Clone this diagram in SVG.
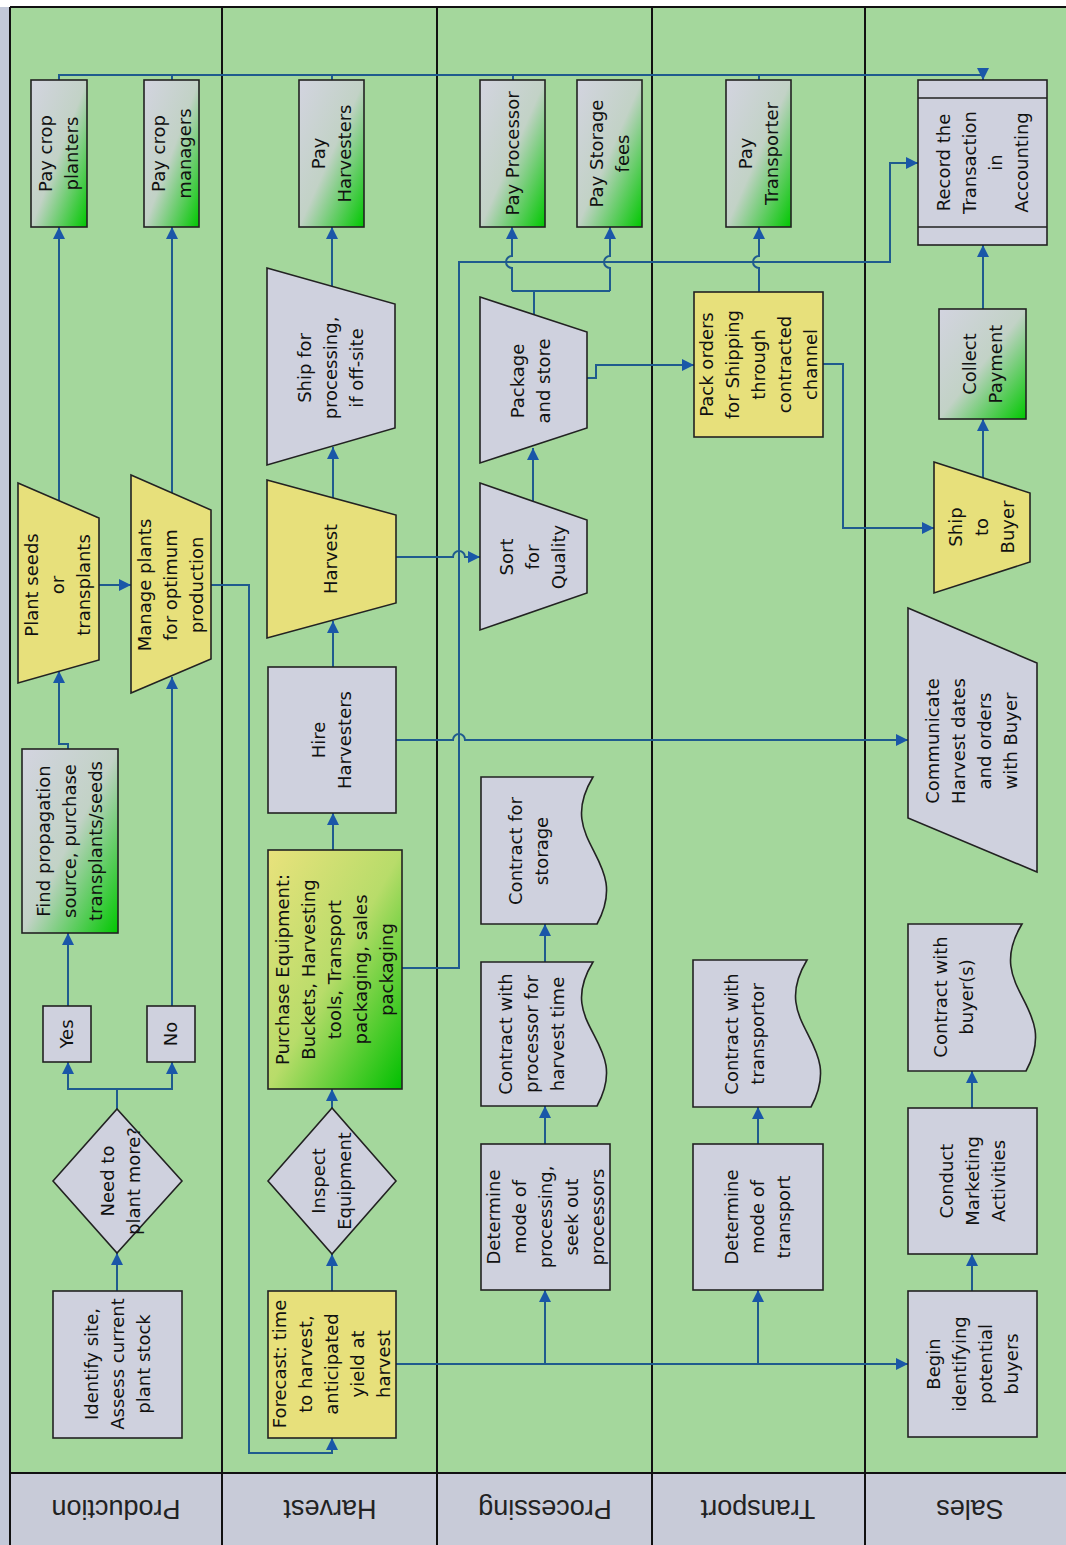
<svg xmlns="http://www.w3.org/2000/svg" width="1066" height="1545" viewBox="0 0 1066 1545">
<style>
.lane{fill:#a4d79c}
.hdr{fill:#c8cbd8}
.ln{stroke:#111;stroke-width:2;fill:none}
.n{stroke:#222;stroke-width:1.6}
.gray{fill:#cfd1de}
.yel{fill:#e7e07b}
.gg{fill:url(#gGreen)}
.yg{fill:url(#yGreen)}
.c{fill:none;stroke:#1f5b8e;stroke-width:2}
.a{marker-end:url(#arr)}
.t{font-family:"DejaVu Sans",Verdana,sans-serif;font-size:18px;text-anchor:middle;fill:#111}
.lbl{font-family:"Liberation Sans",Arial,sans-serif;font-size:27px;text-anchor:middle;fill:#222}
</style>
<defs>
<linearGradient id="gGreen" x1="0" y1="0" x2="1" y2="1">
<stop offset="0" stop-color="#d3d4e0"/><stop offset="0.5" stop-color="#c2d2c6"/><stop offset="1" stop-color="#00c800"/>
</linearGradient>
<linearGradient id="yGreen" x1="0" y1="0" x2="1" y2="1">
<stop offset="0" stop-color="#e9e27c"/><stop offset="0.5" stop-color="#b8dc6a"/><stop offset="1" stop-color="#00c000"/>
</linearGradient>
<marker id="arr" viewBox="0 0 12 12" refX="12" refY="6" markerWidth="12" markerHeight="12" markerUnits="userSpaceOnUse" orient="auto">
<path d="M0,0 L12,6 L0,12 Z" fill="#1a57a8"/>
</marker>
</defs>

<g id="lanes">
<rect x="0" y="0" width="1066" height="1545" fill="#ffffff"/>
<rect x="0" y="7" width="10" height="1538" fill="#c3c9d9"/>
<rect class="lane" x="10" y="7" width="1056" height="1466"/>
<rect class="hdr" x="10" y="1473" width="1056" height="72"/>
<path class="ln" d="M10,7 H1066 M10,1473 H1066 M10,7 V1545 M222,7 V1545 M437,7 V1545 M652,7 V1545 M865,7 V1545"/>
<text class="lbl" transform="translate(116,1509) rotate(180)" dy="0.35em">Production</text>
<text class="lbl" transform="translate(330,1509) rotate(180)" dy="0.35em">Harvest</text>
<text class="lbl" transform="translate(545,1509) rotate(180)" dy="0.35em">Processing</text>
<text class="lbl" transform="translate(758,1509) rotate(180)" dy="0.35em">Transport</text>
<text class="lbl" transform="translate(970,1509) rotate(180)" dy="0.35em">Sales</text>
</g>

<g id="connectors">
<path class="c a" d="M117,1291 V1253"/>
<path class="c a" d="M117,1109 V1089 H68 V1062"/>
<path class="c a" d="M117,1089 H172 V1062"/>
<path class="c a" d="M68,1006 V933"/>
<path class="c a" d="M172,1006 V677"/>
<path class="c a" d="M68,749 V744 H59 V671"/>
<path class="c a" d="M59,501 V227"/>
<path class="c a" d="M172,493 V227"/>
<path class="c a" d="M99,585 H131"/>
<path class="c a" d="M211,585 H249 V1453 H332 V1438"/>
<path class="c a" d="M59,80 V75 H983 V80"/>
<path class="c" d="M172,80 V75 M332,80 V75 M513,80 V75 M759,80 V75"/>
<path class="c a" d="M332,1291 V1254"/>
<path class="c a" d="M332,1108 V1089"/>
<path class="c a" d="M333,850 V813"/>
<path class="c a" d="M333,667 V621"/>
<path class="c a" d="M333,498 V447"/>
<path class="c a" d="M332,286 V227"/>
<path class="c a" d="M396,557 H453 A6,6 0 0 1 465,557 H480"/>
<path class="c a" d="M396,740 H453 A6,6 0 0 1 465,740 H908"/>
<path class="c a" d="M402,968 H459 V262 H890 V163 H918"/>
<path class="c a" d="M396,1364 H908"/>
<path class="c a" d="M545,1364 V1290"/>
<path class="c a" d="M758,1364 V1290"/>
<path class="c a" d="M545,1144 V1106"/>
<path class="c a" d="M545,962 V924"/>
<path class="c a" d="M758,1144 V1107"/>
<path class="c a" d="M533,501 V448"/>
<path class="c" d="M534,315 V291 M512,291 H610"/>
<path class="c a" d="M512,291 V268 A6,6 0 0 1 512,256 V227"/>
<path class="c a" d="M610,291 V268 A6,6 0 0 1 610,256 V227"/>
<path class="c a" d="M587,378 H596 V365 H694"/>
<path class="c a" d="M759,292 V268 A6,6 0 0 1 759,256 V227"/>
<path class="c a" d="M823,364 H843 V528 H934"/>
<path class="c a" d="M983,478 V419"/>
<path class="c a" d="M983,309 V245"/>
<path class="c a" d="M972,1291 V1254"/>
<path class="c a" d="M972,1108 V1071"/>
</g>

<g id="identify-site">
<rect class="n gray" x="53" y="1291" width="129" height="147"/>
<text class="t" transform="translate(117.5,1364) rotate(-90)"><tspan x="0" dy="-20">Identify site,</tspan><tspan x="0" dy="26">Assess current</tspan><tspan x="0" dy="26">plant stock</tspan></text>
</g>
<g id="need-to-plant">
<path class="n gray" d="M53,1181 L117,1109 L182,1181 L117,1253 Z"/>
<text class="t" transform="translate(121,1181) rotate(-90)"><tspan x="0" dy="-7">Need to</tspan><tspan x="0" dy="26">plant more?</tspan></text>
</g>
<g id="yes">
<rect class="n gray" x="43" y="1006" width="48" height="56"/>
<text class="t" transform="translate(67,1034) rotate(-90)"><tspan x="0" dy="6">Yes</tspan></text>
</g>
<g id="no">
<rect class="n gray" x="147" y="1006" width="48" height="56"/>
<text class="t" transform="translate(171,1034) rotate(-90)"><tspan x="0" dy="6">No</tspan></text>
</g>
<g id="find-propagation">
<rect class="n gg" x="22" y="749" width="96" height="184"/>
<text class="t" transform="translate(70,841) rotate(-90)"><tspan x="0" dy="-20">Find propagation</tspan><tspan x="0" dy="26">source, purchase</tspan><tspan x="0" dy="26">transplants/seeds</tspan></text>
</g>
<g id="plant-seeds">
<path class="n yel" d="M18,483 L99,518 L99,660 L18,683 Z"/>
<text class="t" transform="translate(58,585) rotate(-90)"><tspan x="0" dy="-20">Plant seeds</tspan><tspan x="0" dy="26">or</tspan><tspan x="0" dy="26">transplants</tspan></text>
</g>
<g id="manage-plants">
<path class="n yel" d="M131,475 L211,510 L211,659 L131,693 Z"/>
<text class="t" transform="translate(171,585) rotate(-90)"><tspan x="0" dy="-20">Manage plants</tspan><tspan x="0" dy="26">for optimum</tspan><tspan x="0" dy="26">production</tspan></text>
</g>
<g id="pay-crop-planters">
<rect class="n gg" x="31" y="80" width="56" height="147"/>
<text class="t" transform="translate(59,153.5) rotate(-90)"><tspan x="0" dy="-7">Pay crop</tspan><tspan x="0" dy="26">planters</tspan></text>
</g>
<g id="pay-crop-managers">
<rect class="n gg" x="144" y="80" width="55" height="147"/>
<text class="t" transform="translate(171.5,153.5) rotate(-90)"><tspan x="0" dy="-7">Pay crop</tspan><tspan x="0" dy="26">managers</tspan></text>
</g>

<g id="forecast">
<rect class="n yel" x="268" y="1291" width="128" height="147"/>
<text class="t" transform="translate(332,1364) rotate(-90)"><tspan x="0" dy="-46">Forecast: time</tspan><tspan x="0" dy="26">to harvest,</tspan><tspan x="0" dy="26">anticipated</tspan><tspan x="0" dy="26">yield at</tspan><tspan x="0" dy="26">harvest</tspan></text>
</g>
<g id="inspect-equipment">
<path class="n gray" d="M268,1181 L332,1108 L396,1181 L332,1254 Z"/>
<text class="t" transform="translate(332,1181) rotate(-90)"><tspan x="0" dy="-7">Inspect</tspan><tspan x="0" dy="26">Equipment</tspan></text>
</g>
<g id="purchase-equipment">
<rect class="n yg" x="268" y="850" width="134" height="239"/>
<text class="t" transform="translate(335,969.5) rotate(-90)"><tspan x="0" dy="-46">Purchase Equipment:</tspan><tspan x="0" dy="26">Buckets, Harvesting</tspan><tspan x="0" dy="26">tools, Transport</tspan><tspan x="0" dy="26">packaging, sales</tspan><tspan x="0" dy="26">packaging</tspan></text>
</g>
<g id="hire-harvesters">
<rect class="n gray" x="268" y="667" width="128" height="146"/>
<text class="t" transform="translate(332,740) rotate(-90)"><tspan x="0" dy="-7">Hire</tspan><tspan x="0" dy="26">Harvesters</tspan></text>
</g>
<g id="harvest">
<path class="n yel" d="M267,480 L396,515 L396,603 L267,638 Z"/>
<text class="t" transform="translate(331,559) rotate(-90)"><tspan x="0" dy="6">Harvest</tspan></text>
</g>
<g id="ship-for-processing">
<path class="n gray" d="M267,268 L395,304 L395,428 L267,465 Z"/>
<text class="t" transform="translate(331,368) rotate(-90)"><tspan x="0" dy="-20">Ship for</tspan><tspan x="0" dy="26">processing,</tspan><tspan x="0" dy="26">if off-site</tspan></text>
</g>
<g id="pay-harvesters">
<rect class="n gg" x="299" y="80" width="65" height="147"/>
<text class="t" transform="translate(331.5,153.5) rotate(-90)"><tspan x="0" dy="-7">Pay</tspan><tspan x="0" dy="26">Harvesters</tspan></text>
</g>

<g id="determine-processing">
<rect class="n gray" x="481" y="1144" width="129" height="146"/>
<text class="t" transform="translate(545.5,1217) rotate(-90)"><tspan x="0" dy="-46">Determine</tspan><tspan x="0" dy="26">mode of</tspan><tspan x="0" dy="26">processing,</tspan><tspan x="0" dy="26">seek out</tspan><tspan x="0" dy="26">processors</tspan></text>
</g>
<g id="contract-processor">
<path class="n gray" d="M481,962 H593 C553,1027 633,1041 597,1106 H481 Z"/>
<text class="t" transform="translate(532,1034) rotate(-90)"><tspan x="0" dy="-20">Contract with</tspan><tspan x="0" dy="26">processor for</tspan><tspan x="0" dy="26">harvest time</tspan></text>
</g>
<g id="contract-storage">
<path class="n gray" d="M481,777 H593 C553,843 633,858 597,924 H481 Z"/>
<text class="t" transform="translate(529,851) rotate(-90)"><tspan x="0" dy="-7">Contract for</tspan><tspan x="0" dy="26">storage</tspan></text>
</g>
<g id="sort-quality">
<path class="n gray" d="M480,483 L587,520 L587,593 L480,630 Z"/>
<text class="t" transform="translate(533,557) rotate(-90)"><tspan x="0" dy="-20">Sort</tspan><tspan x="0" dy="26">for</tspan><tspan x="0" dy="26">Quality</tspan></text>
</g>
<g id="package-store">
<path class="n gray" d="M480,297 L587,332 L587,428 L480,463 Z"/>
<text class="t" transform="translate(531,381) rotate(-90)"><tspan x="0" dy="-7">Package</tspan><tspan x="0" dy="26">and store</tspan></text>
</g>
<g id="pay-processor">
<rect class="n gg" x="480" y="80" width="65" height="147"/>
<text class="t" transform="translate(512.5,153.5) rotate(-90)"><tspan x="0" dy="6">Pay Processor</tspan></text>
</g>
<g id="pay-storage">
<rect class="n gg" x="577" y="80" width="65" height="147"/>
<text class="t" transform="translate(609.5,153.5) rotate(-90)"><tspan x="0" dy="-7">Pay Storage</tspan><tspan x="0" dy="26">fees</tspan></text>
</g>

<g id="determine-transport">
<rect class="n gray" x="693" y="1144" width="130" height="146"/>
<text class="t" transform="translate(758,1217) rotate(-90)"><tspan x="0" dy="-20">Determine</tspan><tspan x="0" dy="26">mode of</tspan><tspan x="0" dy="26">transport</tspan></text>
</g>
<g id="contract-transportor">
<path class="n gray" d="M693,960 H807 C767,1026 847,1041 811,1107 H693 Z"/>
<text class="t" transform="translate(745,1034) rotate(-90)"><tspan x="0" dy="-7">Contract with</tspan><tspan x="0" dy="26">transportor</tspan></text>
</g>
<g id="pack-orders">
<rect class="n yel" x="694" y="292" width="129" height="145"/>
<text class="t" transform="translate(758.5,364.5) rotate(-90)"><tspan x="0" dy="-46">Pack orders</tspan><tspan x="0" dy="26">for Shipping</tspan><tspan x="0" dy="26">through</tspan><tspan x="0" dy="26">contracted</tspan><tspan x="0" dy="26">channel</tspan></text>
</g>
<g id="pay-transporter">
<rect class="n gg" x="726" y="80" width="65" height="147"/>
<text class="t" transform="translate(758.5,153.5) rotate(-90)"><tspan x="0" dy="-7">Pay</tspan><tspan x="0" dy="26">Transporter</tspan></text>
</g>

<g id="begin-identifying">
<rect class="n gray" x="908" y="1291" width="129" height="146"/>
<text class="t" transform="translate(972.5,1364) rotate(-90)"><tspan x="0" dy="-33">Begin</tspan><tspan x="0" dy="26">identifying</tspan><tspan x="0" dy="26">potential</tspan><tspan x="0" dy="26">buyers</tspan></text>
</g>
<g id="conduct-marketing">
<rect class="n gray" x="908" y="1108" width="129" height="146"/>
<text class="t" transform="translate(972.5,1181) rotate(-90)"><tspan x="0" dy="-20">Conduct</tspan><tspan x="0" dy="26">Marketing</tspan><tspan x="0" dy="26">Activities</tspan></text>
</g>
<g id="contract-buyer">
<path class="n gray" d="M908,924 H1022 C982,990 1062,1005 1026,1071 H908 Z"/>
<text class="t" transform="translate(954,997) rotate(-90)"><tspan x="0" dy="-7">Contract with</tspan><tspan x="0" dy="26">buyer(s)</tspan></text>
</g>
<g id="communicate">
<path class="n gray" d="M908,608 L1037,663 L1037,872 L908,818 Z"/>
<text class="t" transform="translate(972,741) rotate(-90)"><tspan x="0" dy="-33">Communicate</tspan><tspan x="0" dy="26">Harvest dates</tspan><tspan x="0" dy="26">and orders</tspan><tspan x="0" dy="26">with Buyer</tspan></text>
</g>
<g id="ship-to-buyer">
<path class="n yel" d="M934,462 L1030,493 L1030,562 L934,593 Z"/>
<text class="t" transform="translate(982,527) rotate(-90)"><tspan x="0" dy="-20">Ship</tspan><tspan x="0" dy="26">to</tspan><tspan x="0" dy="26">Buyer</tspan></text>
</g>
<g id="collect-payment">
<rect class="n gg" x="939" y="309" width="87" height="110"/>
<text class="t" transform="translate(982.5,364) rotate(-90)"><tspan x="0" dy="-7">Collect</tspan><tspan x="0" dy="26">Payment</tspan></text>
</g>
<g id="record-transaction">
<rect class="n gray" x="918" y="80" width="129" height="165"/>
<path class="n" d="M918,98 H1047 M918,227 H1047"/>
<text class="t" transform="translate(982.5,162.5) rotate(-90)"><tspan x="0" dy="-33">Record the</tspan><tspan x="0" dy="26">Transaction</tspan><tspan x="0" dy="26">in</tspan><tspan x="0" dy="26">Accounting</tspan></text>
</g>
</svg>
